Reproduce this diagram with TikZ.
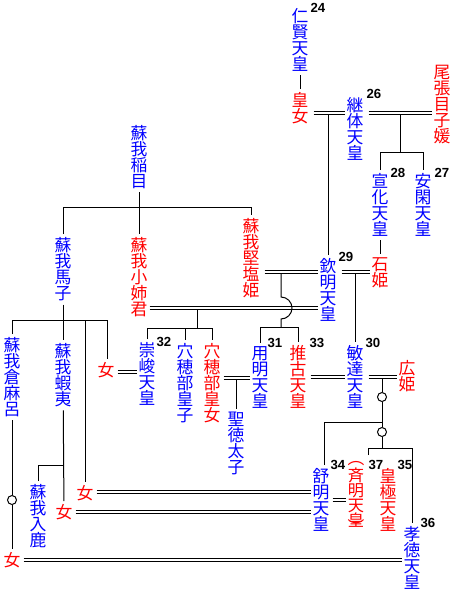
\documentclass[tikz,border=0pt]{standalone}
\usepackage{fontspec}
\newfontfamily\jp{Noto Sans CJK JP}
\newfontfamily\numf{Liberation Sans}
\newcommand\dbl[4]{%
  \draw (#1.east |- 0,#3) ++(#4,0) -- (#2.west |- 0,#3);
  \draw (#1.east |- 0,#3+3) ++(#4,0) -- (#2.west |- 0,#3+3);}
\begin{document}
\begin{tikzpicture}[x=1pt,y=-1pt,line width=1pt,
  vt/.style={font=\jp\fontsize{16.8}{16}\selectfont, align=center, inner xsep=1.6pt, inner ysep=3pt, anchor=north},
  bl/.style={vt,text=blue},
  rd/.style={vt,text=red},
  num/.style={font=\numf\bfseries\fontsize{13.2}{13.2}\selectfont, inner sep=0pt, anchor=north west},
  ring/.style={circle,draw,fill=white,minimum size=9pt,inner sep=0pt},
  par/.style={font=\jp\fontsize{16.8}{16}\selectfont, text=red, inner sep=0pt}]
\useasboundingbox (0,0) rectangle (457,592);
% nodes
\node[bl] (ninken) at (300,5) {仁\\賢\\天\\皇};
\node[num] (n24) at (310,3) {24};
\node[rd] (kojo) at (300,89) {皇\\女};
\node[bl] (keitai) at (355,94) {継\\体\\天\\皇};
\node[num] (n26) at (366,89) {26};
\node[rd] (owari) at (442,62) {尾\\張\\目\\子\\媛};
\node[bl] (senka) at (380,170) {宣\\化\\天\\皇};
\node[num] (n28) at (390,168) {28};
\node[bl] (ankan) at (423,170) {安\\閑\\天\\皇};
\node[num] (n27) at (434,168) {27};
\node[rd] (iwahime) at (380,254) {石\\姫};
\node[bl] (inamoe) at (139,122) {蘇\\我\\稲\\目};
\node[bl] (umako) at (63,234) {蘇\\我\\馬\\子};
\node[rd] (oane) at (139,234) {蘇\\我\\小\\姉\\君};
\node[rd] (kitashi) at (251,215) {蘇\\我\\堅\\塩\\姫};
\node[bl] (kinmei) at (328,255) {欽\\明\\天\\皇};
\node[num] (n29) at (338,252) {29};
\node[bl] (kuramaro) at (12,334) {蘇\\我\\倉\\麻\\呂};
\node[bl] (emishi) at (63,340) {蘇\\我\\蝦\\夷};
\node[rd] (f1) at (106,359) {女};
\node[bl] (sushun) at (147,339) {崇\\峻\\天\\皇};
\node[num] (n32) at (156,337) {32};
\node[bl] (hashiko) at (185,340) {穴\\穂\\部\\皇\\子};
\node[rd] (hashihime) at (212,340) {穴\\穂\\部\\皇\\女};
\node[bl] (yomei) at (260,343) {用\\明\\天\\皇};
\node[num] (n31) at (267,338) {31};
\node[rd] (suiko) at (298,342) {推\\古\\天\\皇};
\node[num] (n33) at (309,338) {33};
\node[bl] (bidatsu) at (355,342) {敏\\達\\天\\皇};
\node[num] (n30) at (365,338) {30};
\node[rd] (hirohime) at (407,357) {広\\姫};
\node[bl] (shotoku) at (236,409) {聖\\徳\\太\\子};
\node[bl] (iruka) at (38,481) {蘇\\我\\入\\鹿};
\node[rd] (f2) at (85,482) {女};
\node[rd] (f3) at (64,501) {女};
\node[rd] (f4) at (12,549) {女};
\node[bl] (jomei) at (321,465) {舒\\明\\天\\皇};
\node[num] (n34) at (330,460) {34};
\node[rd,font=\jp\fontsize{16.2}{15.2}\selectfont] (saimei) at (356,464) {斉\\明\\天\\皇};
\node[par,anchor=north] (pl) at (356,461) {︵};
\node[par,anchor=south] (pr) at (356,534) {︶};
\node[num] (n37) at (368,460) {37};
\node[rd] (kogyoku) at (388,465) {皇\\極\\天\\皇};
\node[num] (n35) at (397,460) {35};
\node[bl] (kotoku) at (412,523) {孝\\徳\\天\\皇};
\node[num] (n36) at (420,518) {36};
\node[ring] (r1) at (382,397) {};
\node[ring] (r2) at (382,432) {};
\node[ring] (r3) at (12,500) {};
% connectors
\draw (ninken) -- (kojo);
\dbl{kojo}{keitai}{111}{3}
\draw (kinmei.north |- 0,114) -- (kinmei.north);
\dbl{keitai}{owari}{111}{3}
\draw (400,114) -- (400,152);
\draw (senka.north) -- (senka.north |- 0,152) -| (ankan.north);
\draw (senka) -- (iwahime);
\draw (inamoe) -- (oane);
\draw (umako.north) -- (umako.north |- 0,207) -| (kitashi.north);
\dbl{kitashi}{kinmei}{270}{3}
\dbl{kinmei}{iwahime}{270}{3}
\draw (bidatsu.north |- 0,273) -- (bidatsu.north);
\draw (281,273) -- (281,297) arc[start angle=90,end angle=-90,radius=11pt] -- (281,327);
\draw (yomei.north) -- (yomei.north |- 0,327) -| (suiko.north);
\dbl{oane}{kinmei}{306}{0}
\draw (197,309) -- (197,328);
\draw (sushun.north) -- (sushun.north |- 0,328) -| (hashihime.north);
\draw (hashiko.north |- 0,328) -- (hashiko.north);
\dbl{hashihime}{yomei}{376}{1}
\draw (shotoku.north |- 0,379) -- (shotoku.north);
\dbl{suiko}{bidatsu}{375}{2}
\dbl{bidatsu}{hirohime}{375}{3}
\draw (r1.north |- 0,378) -- (r1);
\draw (r1) -- (r2);
\draw (r2) -- (r2.south |- 0,448);
\draw ([xshift=3pt]jomei.north) |- (382,422);
\draw (368,455) -- (368,448) -| (kotoku.north);
\dbl{jomei}{saimei}{498}{1}
\draw (umako) -- (emishi);
\draw (kuramaro.north) -- (kuramaro.north |- 0,320) -| ([xshift=1pt]f1.north);
\draw (f2.north |- 0,320) -- (f2.north);
\dbl{f1}{sushun}{370}{1}
\draw (kuramaro) -- (r3);
\draw (r3) -- (f4);
\dbl{f4}{kotoku}{558}{1}
\draw (emishi) -- (f3);
\draw (iruka.north) -- (iruka.north |- 0,465) -- (emishi.south |- 0,465);
\dbl{f3}{jomei}{510}{1}
\dbl{f2}{jomei}{490}{1}
\end{tikzpicture}
\end{document}
